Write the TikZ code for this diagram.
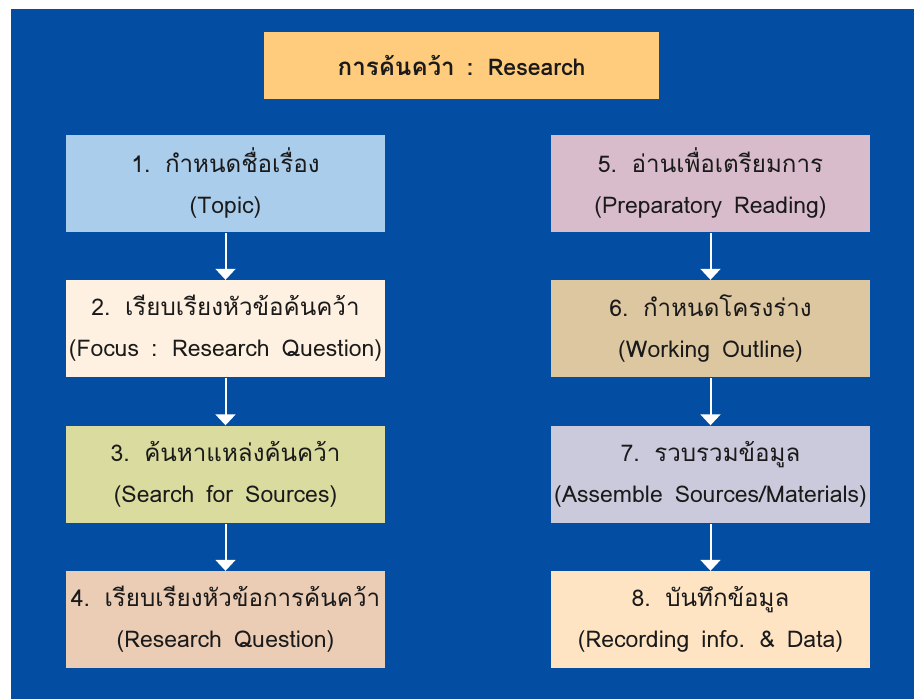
\documentclass[tikz,border=0pt]{standalone}
\usepackage{fontspec}
\setmainfont[Script=Thai,WordSpace=1.55]{Loma}
\newfontfamily\thaifont[Script=Thai,Scale=1.05]{Loma}
\newcommand\thx[1]{{\thaifont #1}}
\usetikzlibrary{arrows.meta}
\definecolor{bgblue}{HTML}{034EA2}
\definecolor{ctitle}{HTML}{FFCC7D}
\definecolor{cone}{HTML}{AACDEC}
\definecolor{ctwo}{HTML}{FEF1E1}
\definecolor{cthree}{HTML}{DADB9E}
\definecolor{cfour}{HTML}{EBCCB5}
\definecolor{cfive}{HTML}{D8BCCB}
\definecolor{csix}{HTML}{DDC7A0}
\definecolor{cseven}{HTML}{CBCADC}
\definecolor{ceight}{HTML}{FFE4C4}
\definecolor{ink}{HTML}{1A1A1A}
\begin{document}
\begin{tikzpicture}[x=1pt,y=-1pt,
  stepbox/.style={minimum width=319pt,minimum height=97pt,inner sep=0pt,align=center,
    text=ink,font=\fontsize{23}{41}\selectfont},
  flow/.style={draw=white,line width=2pt,-{Triangle[width=20pt,length=11pt]},shorten <=1pt}]
\useasboundingbox (0,0) rectangle (914,699);
\fill[bgblue] (11,9) rectangle (914,699);
\node[fill=ctitle,minimum width=395pt,minimum height=67pt,inner sep=0pt,text=ink,
  font=\fontsize{23}{26}\selectfont\bfseries] (title) at (461.5,65.5) {\thx{การค้นคว้า} : Research};
\node[stepbox,fill=cone] (b1) at (225.5,183.5) {1. \thx{กำหนดชื่อเรื่อง}\\(Topic)};
\node[stepbox,fill=ctwo] (b2) at (225.5,328.5) {2. \thx{เรียบเรียงหัวข้อค้นคว้า}\\(Focus : Research Question)};
\node[stepbox,fill=cthree] (b3) at (225.5,474) {3. \thx{ค้นหาแหล่งค้นคว้า}\\(Search for Sources)};
\node[stepbox,fill=cfour] (b4) at (225.5,619.5) {4. \thx{เรียบเรียงหัวข้อการค้นคว้า}\\(Research Question)};
\node[stepbox,fill=cfive] (b5) at (710.5,183.5) {5. \thx{อ่านเพื่อเตรียมการ}\\(Preparatory Reading)};
\node[stepbox,fill=csix] (b6) at (710.5,328.5) {6. \thx{กำหนดโครงร่าง}\\(Working Outline)};
\node[stepbox,fill=cseven] (b7) at (710.5,474) {7. \thx{รวบรวมข้อมูล}\\(Assemble Sources/Materials)};
\node[stepbox,fill=ceight] (b8) at (710.5,619.5) {8. \thx{บันทึกข้อมูล}\\(Recording info. \& Data)};
\draw[flow] (b1) -- (b2);
\draw[flow] (b2) -- (b3);
\draw[flow] (b3) -- (b4);
\draw[flow] (b5) -- (b6);
\draw[flow] (b6) -- (b7);
\draw[flow] (b7) -- (b8);
\end{tikzpicture}
\end{document}
